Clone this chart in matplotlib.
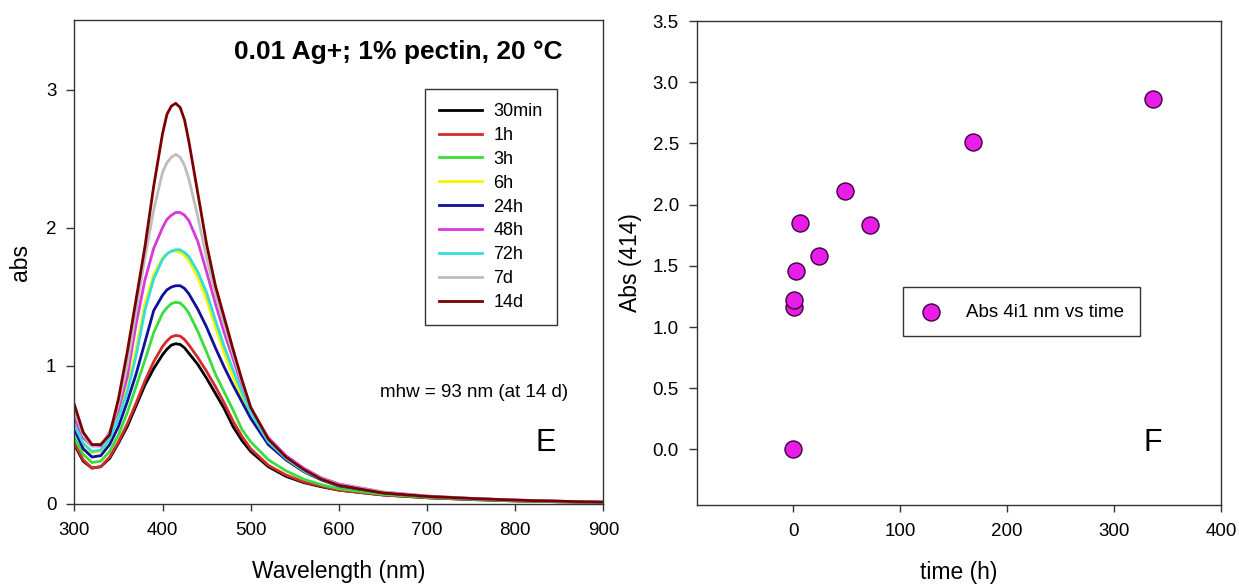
import matplotlib
matplotlib.use("Agg")
import matplotlib.pyplot as plt

plt.rcParams['font.family'] = ['Liberation Sans', 'DejaVu Sans']

# ---- panel E: UV-vis spectra ----
wavelength = [300, 310, 320, 330, 340, 350, 360, 370, 380, 390, 400, 405, 410, 415, 420, 425,
              430, 440, 450, 460, 470, 480, 490, 500, 520, 540, 560, 580, 600,
              650, 700, 750, 800, 850, 900]

abs_30min = [0.43, 0.31, 0.26, 0.27, 0.33, 0.44, 0.56, 0.71, 0.86, 0.98, 1.08, 1.12, 1.15, 1.16, 1.155, 1.13,
             1.09, 1.01, 0.91, 0.80, 0.69, 0.56, 0.46, 0.38, 0.27, 0.20, 0.155, 0.125, 0.10,
             0.065, 0.045, 0.032, 0.022, 0.016, 0.012]
abs_1h = [0.44, 0.32, 0.26, 0.27, 0.34, 0.45, 0.58, 0.73, 0.89, 1.03, 1.14, 1.18, 1.21, 1.22, 1.215, 1.19,
          1.15, 1.06, 0.96, 0.85, 0.73, 0.60, 0.49, 0.40, 0.28, 0.21, 0.16, 0.13, 0.10,
          0.066, 0.046, 0.033, 0.023, 0.016, 0.012]
abs_3h = [0.48, 0.36, 0.30, 0.31, 0.38, 0.50, 0.66, 0.85, 1.04, 1.24, 1.38, 1.42, 1.45, 1.46, 1.455, 1.425,
          1.38, 1.25, 1.10, 0.94, 0.81, 0.68, 0.54, 0.45, 0.32, 0.24, 0.18, 0.14, 0.11,
          0.07, 0.048, 0.035, 0.024, 0.017, 0.012]
abs_6h = [0.56, 0.43, 0.37, 0.38, 0.47, 0.63, 0.84, 1.12, 1.45, 1.66, 1.78, 1.81, 1.83, 1.83, 1.82, 1.80,
          1.76, 1.64, 1.48, 1.28, 1.09, 0.92, 0.77, 0.63, 0.43, 0.32, 0.235, 0.175, 0.13,
          0.08, 0.053, 0.038, 0.027, 0.019, 0.013]
abs_24h = [0.54, 0.40, 0.34, 0.35, 0.43, 0.56, 0.74, 0.94, 1.17, 1.40, 1.51, 1.55, 1.57, 1.58, 1.58, 1.56,
           1.52, 1.41, 1.28, 1.13, 0.99, 0.86, 0.74, 0.62, 0.43, 0.32, 0.235, 0.175, 0.13,
           0.08, 0.053, 0.038, 0.027, 0.019, 0.013]
abs_48h = [0.62, 0.48, 0.42, 0.42, 0.52, 0.68, 0.92, 1.30, 1.62, 1.85, 2.00, 2.06, 2.09, 2.11, 2.11, 2.09,
           2.05, 1.90, 1.68, 1.45, 1.24, 1.05, 0.86, 0.69, 0.48, 0.35, 0.26, 0.19, 0.145,
           0.087, 0.058, 0.041, 0.029, 0.02, 0.013]
abs_72h = [0.57, 0.44, 0.38, 0.39, 0.47, 0.62, 0.81, 1.07, 1.40, 1.63, 1.77, 1.81, 1.83, 1.84, 1.84, 1.82,
           1.79, 1.68, 1.53, 1.33, 1.14, 0.97, 0.81, 0.66, 0.45, 0.33, 0.24, 0.18, 0.135,
           0.083, 0.055, 0.039, 0.027, 0.02, 0.013]
abs_7d = [0.68, 0.50, 0.42, 0.43, 0.51, 0.72, 1.00, 1.40, 1.78, 2.13, 2.40, 2.47, 2.51, 2.53, 2.51, 2.45,
          2.35, 2.08, 1.78, 1.52, 1.30, 1.09, 0.88, 0.70, 0.47, 0.34, 0.25, 0.185, 0.14,
          0.085, 0.056, 0.04, 0.028, 0.02, 0.013]
abs_14d = [0.72, 0.52, 0.43, 0.43, 0.50, 0.76, 1.10, 1.48, 1.86, 2.30, 2.68, 2.82, 2.88, 2.90, 2.87, 2.78,
           2.62, 2.25, 1.88, 1.58, 1.35, 1.12, 0.90, 0.70, 0.47, 0.34, 0.25, 0.18, 0.135,
           0.08, 0.055, 0.04, 0.028, 0.02, 0.013]

spectra = [abs_30min, abs_1h, abs_3h, abs_6h, abs_24h, abs_48h, abs_72h, abs_7d, abs_14d]
labels = ['30min', '1h', '3h', '6h', '24h', '48h', '72h', '7d', '14d']
colors = ['#000000', '#d42a2a', '#3ddc3d', '#f5f500', '#10109a', '#d83ad8', '#35dcdc', '#bdbdbd', '#7a0000']

# ---- panel F: absorbance at peak vs time ----
time_h = [0, 0.5, 1, 3, 6, 24, 48, 72, 168, 336]
abs_peak = [0.0, 1.16, 1.22, 1.46, 1.85, 1.58, 2.11, 1.83, 2.51, 2.86]

fig = plt.figure(figsize=(12.39, 5.84), dpi=100)
axE = fig.add_axes([0.060, 0.137, 0.427, 0.828])
axF = fig.add_axes([0.5625, 0.136, 0.423, 0.828])

spine_col = '#333333'

### Panel E
for y, lab, c in zip(spectra, labels, colors):
    axE.plot(wavelength, y, color=c, lw=2.0, label=lab)

axE.set_xlim(300, 900)
axE.set_ylim(0, 3.5)
axE.set_xticks([300, 400, 500, 600, 700, 800, 900])
axE.set_yticks([0, 1, 2, 3])
axE.set_xlabel('Wavelength (nm)', fontsize=16.5, labelpad=15)
axE.set_ylabel('abs', fontsize=16.5, labelpad=10)

leg = axE.legend(loc='upper left', bbox_to_anchor=(0.662, 0.859), borderaxespad=0,
                 fontsize=13, labelspacing=0.38, handlelength=2.4, handletextpad=0.6,
                 borderpad=0.8, fancybox=False, framealpha=1, edgecolor=spine_col)
leg.get_frame().set_linewidth(1.0)

axE.text(0.923, 0.935, '0.01 Ag+; 1% pectin, 20 °C', transform=axE.transAxes,
         ha='right', va='center', fontsize=19, fontweight='bold')
axE.text(0.934, 0.23, 'mhw = 93 nm (at 14 d)', transform=axE.transAxes,
         ha='right', va='center', fontsize=13.5)
axE.text(0.89, 0.126, 'E', transform=axE.transAxes, ha='center', va='center', fontsize=22)

### Panel F
axF.scatter(time_h, abs_peak, s=150, color='#e81ee8', edgecolors='#3a003a', linewidths=1.0,
            zorder=3, label='Abs 4i1 nm vs time')
axF.set_xlim(-90, 400)
axF.set_ylim(-0.45, 3.5)
axF.set_xticks([0, 100, 200, 300, 400])
axF.set_yticks([0.0, 0.5, 1.0, 1.5, 2.0, 2.5, 3.0, 3.5])
axF.set_yticklabels(['0.0', '0.5', '1.0', '1.5', '2.0', '2.5', '3.0', '3.5'])
axF.set_xlabel('time (h)', fontsize=16.5, labelpad=15)
axF.set_ylabel('Abs (414)', fontsize=16.5, labelpad=8)

legF = axF.legend(loc='upper left', bbox_to_anchor=(0.394, 0.449), borderaxespad=0,
                  fontsize=13.5, handlelength=1.2, handletextpad=1.3, borderpad=0.85,
                  fancybox=False, framealpha=1, edgecolor=spine_col, scatterpoints=1)
legF.get_frame().set_linewidth(1.0)

axF.text(0.870, 0.128, 'F', transform=axF.transAxes, ha='center', va='center', fontsize=22)

for ax in (axE, axF):
    for side in ('top', 'right', 'left', 'bottom'):
        ax.spines[side].set_color(spine_col)
        ax.spines[side].set_linewidth(1.0)
    ax.tick_params(direction='out', width=1, color=spine_col, labelsize=13.5,
                   top=False, right=False)
    ax.tick_params(axis='x', length=4.8, pad=8.5)
    ax.tick_params(axis='y', length=5.5, pad=7.5)

fig.savefig('out.png', dpi=100)
